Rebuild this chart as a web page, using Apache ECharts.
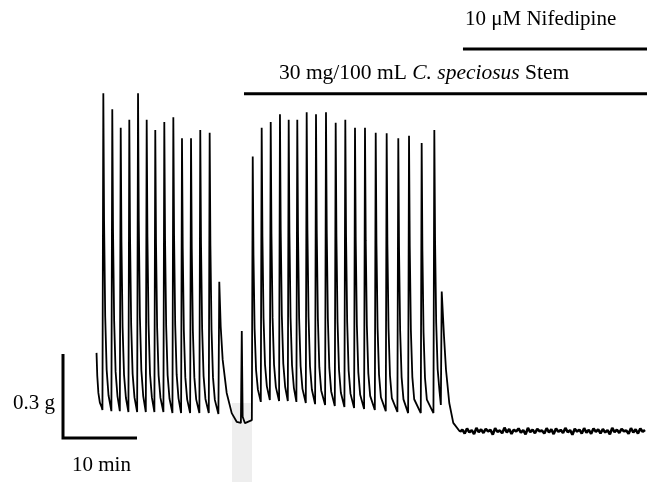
<!DOCTYPE html>
<html>
<head>
<meta charset="utf-8">
<script src="https://cdn.jsdelivr.net/npm/echarts@6/dist/echarts.min.js"></script>
<style>
  html, body { margin: 0; padding: 0; background: #fff; }
  #main { width: 647px; height: 482px; }
</style>
</head>
<body>
<div id="main"></div>
<script>
// isometric tension trace, time in min, force in g

// contraction peaks (min, g); first entry is the start of the recording
var beatTimes = [4.53, 5.45, 6.66, 7.80, 8.96, 10.14, 11.31, 12.47, 13.69, 14.91, 16.08, 17.30,
  18.55, 19.82, 21.12, 24.16, 25.64, 26.85, 28.07, 29.32, 30.50, 31.66, 32.93, 34.19, 35.54,
  36.85, 38.15, 39.46, 40.81, 42.26, 43.74, 45.31, 46.76, 48.47, 50.18, 51.18]
var peakForces = [0.304, 1.231, 1.174, 1.108, 1.136, 1.231, 1.136, 1.100, 1.128, 1.145, 1.070, 1.070,
  1.100, 1.090, 0.558, 0.382, 1.005, 1.108, 1.128, 1.156, 1.136, 1.136, 1.163, 1.156, 1.163,
  1.126, 1.136, 1.108, 1.108, 1.090, 1.088, 1.070, 1.079, 1.053, 1.100, 0.523]
// resting tension just before each contraction
var troughForces = [null, 0.100, 0.096, 0.096, 0.093, 0.093, 0.093, 0.093, 0.093, 0.089, 0.089, 0.089,
  0.089, 0.089, 0.086, 0.054, 0.064, 0.129, 0.136, 0.132, 0.132, 0.129, 0.125, 0.121, 0.118,
  0.114, 0.111, 0.107, 0.104, 0.100, 0.096, 0.093, 0.089, 0.089, 0.089, 0.118]

// relaxation after a full contraction: [min after peak, fraction of fall]
var decayShape = [[0.1, 0.40], [0.25, 0.70], [0.45, 0.87], [0.7, 0.95]]
var riseTime = 0.12

// slower relaxations
var washDecay = [[21.31, 0.398], [21.58, 0.279], [22.12, 0.161], [22.80, 0.089], [23.47, 0.058], [23.72, 0.054]]
var smallDecay = [[24.28, 0.076], [24.59, 0.053], [24.86, 0.054]]
var finalDecay = [[51.49, 0.362], [51.76, 0.243], [52.20, 0.125], [52.74, 0.054], [53.65, 0.0225]]

// baseline after nifedipine, 53.65 .. 78.65 min
var baseline = [0.022, 0.030, 0.016, 0.034, 0.020, 0.028, 0.014, 0.036, 0.021, 0.031, 0.018, 0.033,
  0.024, 0.029, 0.012, 0.035, 0.022, 0.027, 0.017, 0.037, 0.020, 0.032, 0.015, 0.030, 0.023, 0.034,
  0.019, 0.028, 0.013, 0.036, 0.021, 0.030, 0.017, 0.033, 0.024, 0.027, 0.016, 0.035, 0.020, 0.031,
  0.014, 0.034, 0.022, 0.029, 0.018, 0.036, 0.021, 0.028, 0.012, 0.033, 0.023, 0.030, 0.016, 0.035,
  0.019, 0.029, 0.015, 0.034, 0.022, 0.031, 0.017, 0.032, 0.020, 0.028, 0.013, 0.036, 0.021, 0.030,
  0.018, 0.033, 0.024, 0.027, 0.015, 0.035, 0.020, 0.031, 0.016, 0.034, 0.022, 0.029]
var baselineStart = 53.65
var baselineEnd = 78.65

// treatments (min)
var stemStart = 24.46
var nifStart = 54.05
var recordEnd = 78.92

// scale bar
var scaleForce = 0.3
var scaleTime = 10

var slowDecays = { 14: washDecay, 15: smallDecay, 35: finalDecay }

var trace = []
for (var i = 0; i < beatTimes.length; i++) {
  if (troughForces[i] !== null) trace.push([beatTimes[i] - riseTime, troughForces[i]])
  trace.push([beatTimes[i], peakForces[i]])
  if (slowDecays[i]) {
    slowDecays[i].forEach(function (p) { trace.push(p) })
    continue
  }
  var nextT = beatTimes[i + 1] - riseTime
  var drop = peakForces[i] - troughForces[i + 1]
  for (var k = 0; k < decayShape.length; k++) {
    var t = beatTimes[i] + decayShape[k][0]
    if (t < nextT) trace.push([t, peakForces[i] - drop * decayShape[k][1]])
  }
}
var step = (baselineEnd - baselineStart) / (baseline.length - 1)
var rest = baseline.map(function (v, j) { return [baselineStart + step * j, v] })

var myChart = echarts.init(document.getElementById('main'))

var serif = "'Liberation Serif', 'Times New Roman', serif"
var stemLevel = 1.229
var nifLevel = 1.389

var option = {
  animation: false,
  backgroundColor: '#fff',
  grid: { left: 63, right: 0, top: 0, bottom: 0 },
  xAxis: { type: 'value', min: 0, max: recordEnd, show: false },
  yAxis: { type: 'value', min: -0.157, max: 1.564, show: false },
  series: [
    {
      type: 'line',
      data: trace,
      showSymbol: false,
      clip: false,
      lineStyle: { color: '#000', width: 1.8 },
      markArea: {
        silent: true,
        itemStyle: { color: '#eeeeee' },
        data: [[{ xAxis: 22.84, yAxis: -0.157 }, { xAxis: 25.54, yAxis: 0.125 }]]
      },
      z: 3
    },
    {
      type: 'line',
      data: rest,
      showSymbol: false,
      clip: false,
      lineStyle: { color: '#000', width: 2.6 },
      z: 3
    },
    {
      type: 'line',
      data: [[stemStart, stemLevel], [recordEnd, stemLevel]],
      showSymbol: false,
      clip: false,
      lineStyle: { color: '#000', width: 3, cap: 'butt' }
    },
    {
      type: 'line',
      data: [[nifStart, nifLevel], [recordEnd, nifLevel]],
      showSymbol: false,
      clip: false,
      lineStyle: { color: '#000', width: 3, cap: 'butt' }
    },
    {
      type: 'line',
      data: [[0, scaleForce], [0, 0], [scaleTime, 0]],
      showSymbol: false,
      clip: false,
      lineStyle: { color: '#000', width: 3, cap: 'butt', join: 'miter' }
    }
  ],
  graphic: [
    {
      type: 'text', left: 465, top: 9,
      style: { text: '10 μM Nifedipine', font: '21px ' + serif, fill: '#000' }
    },
    {
      type: 'text', left: 279, top: 62,
      style: {
        text: '30 mg/100 mL {i|C. speciosus} Stem',
        font: '21.5px ' + serif, fill: '#000',
        rich: { i: { fontStyle: 'italic', fontSize: 21.5, fontFamily: serif } }
      }
    },
    {
      type: 'text', right: 647 - 55, top: 393,
      style: { text: '0.3 g', font: '21px ' + serif, fill: '#000' }
    },
    {
      type: 'text', left: 72, top: 455,
      style: { text: '10 min', font: '21px ' + serif, fill: '#000' }
    }
  ]
}

myChart.setOption(option)
</script>
</body>
</html>
